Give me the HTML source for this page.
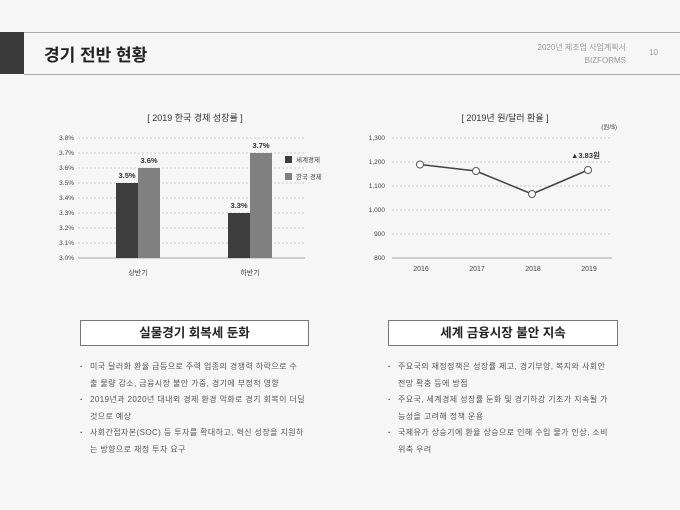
<!DOCTYPE html>
<html><head><meta charset="utf-8"><style>
body{margin:0;width:680px;height:510px;overflow:hidden;background:#f6f6f6;font-family:"Liberation Sans","Noto Sans CJK KR",sans-serif;position:relative}
.a{position:absolute;white-space:nowrap}
.box{position:absolute;border:1px solid #777;background:#fff;height:24px;line-height:24px;text-align:center;font-size:12.5px;font-weight:bold;color:#222}
ul{position:absolute;margin:0;padding:0;list-style:none;font-size:8px;letter-spacing:0.4px;color:#555;line-height:16.5px}
li{padding-left:10px;position:relative;white-space:normal}
li:before{content:"·";position:absolute;left:0;color:#333;font-weight:bold}
</style></head><body>
<div class="a" style="left:0;top:32px;width:24px;height:42px;background:#3a3a3a"></div>
<div class="a" style="left:24px;top:32px;width:656px;height:1px;background:#aaa"></div>
<div class="a" style="left:24px;top:74px;width:656px;height:1px;background:#aaa"></div>
<div class="a" style="left:44px;top:41px;font-size:17px;font-weight:bold;color:#222">경기 전반 현황</div>
<div class="a" style="left:520px;top:41px;font-size:8px;color:#999;text-align:right;width:106px;line-height:13px">2020년 제조업 사업계획서<br>BIZFORMS</div>
<div class="a" style="left:649px;top:48px;font-size:8px;color:#999">10</div>
<svg class="a" style="left:0;top:0" width="680" height="300" font-family="Liberation Sans,Noto Sans CJK KR,sans-serif">
<text x="195" y="121" font-size="9" text-anchor="middle" fill="#333">[ 2019 한국 경제 성장률 ]</text>
<g stroke="#bbb" stroke-dasharray="2,2" stroke-width="0.7">
<line x1="78" x2="305" y1="138" y2="138"/><line x1="78" x2="305" y1="153" y2="153"/><line x1="78" x2="305" y1="168" y2="168"/><line x1="78" x2="305" y1="183" y2="183"/><line x1="78" x2="305" y1="198" y2="198"/><line x1="78" x2="305" y1="213" y2="213"/><line x1="78" x2="305" y1="228" y2="228"/><line x1="78" x2="305" y1="243" y2="243"/>
</g>
<line x1="78" x2="305" y1="258" y2="258" stroke="#aaa"/>
<g font-size="6.5" fill="#444" text-anchor="end">
<text x="74" y="140">3.8%</text><text x="74" y="155">3.7%</text><text x="74" y="170">3.6%</text><text x="74" y="185">3.5%</text><text x="74" y="200">3.4%</text><text x="74" y="215">3.3%</text><text x="74" y="230">3.2%</text><text x="74" y="245">3.1%</text><text x="74" y="260">3.0%</text>
</g>
<rect x="116" y="183" width="22" height="75" fill="#3d3d3d"/><rect x="138" y="168" width="22" height="90" fill="#808080"/>
<rect x="228" y="213" width="22" height="45" fill="#3d3d3d"/><rect x="250" y="153" width="22" height="105" fill="#808080"/>
<g font-size="7.5" font-weight="bold" fill="#333" text-anchor="middle">
<text x="127" y="178">3.5%</text><text x="149" y="163">3.6%</text><text x="239" y="208">3.3%</text><text x="261" y="148">3.7%</text></g>
<g font-size="7" fill="#444" text-anchor="middle"><text x="138" y="275">상반기</text><text x="250" y="275">하반기</text></g>
<rect x="285" y="156" width="7" height="7" fill="#3d3d3d"/><rect x="285" y="173" width="7" height="7" fill="#808080"/>
<g font-size="6.5" fill="#444"><text x="296" y="162">세계경제</text><text x="296" y="179">한국 경제</text></g>

<text x="505" y="121" font-size="9" text-anchor="middle" fill="#333">[ 2019년 원/달러 환율 ]</text>
<text x="617" y="129" font-size="6.5" text-anchor="end" fill="#444">(원/$)</text>
<g stroke="#bbb" stroke-dasharray="2,2" stroke-width="0.7">
<line x1="392" x2="612" y1="138" y2="138"/><line x1="392" x2="612" y1="162" y2="162"/><line x1="392" x2="612" y1="186" y2="186"/><line x1="392" x2="612" y1="210" y2="210"/><line x1="392" x2="612" y1="234" y2="234"/></g>
<line x1="392" x2="612" y1="258" y2="258" stroke="#aaa"/>
<g font-size="6.5" fill="#444" text-anchor="end">
<text x="385" y="140">1,300</text><text x="385" y="164">1,200</text><text x="385" y="188">1,100</text><text x="385" y="212">1,000</text><text x="385" y="236">900</text><text x="385" y="260">800</text></g>
<polyline points="420,164.5 476,171 532,194 588,170" fill="none" stroke="#444" stroke-width="1.5"/>
<g fill="#fff" stroke="#555" stroke-width="1"><circle cx="420" cy="164.5" r="3.5"/><circle cx="476" cy="171" r="3.5"/><circle cx="532" cy="194" r="3.5"/><circle cx="588" cy="170" r="3.5"/></g>
<text x="571" y="158" font-size="7.5" font-weight="bold" fill="#333">▲3.83원</text>
<g font-size="7" fill="#444" text-anchor="middle"><text x="421" y="271">2016</text><text x="477" y="271">2017</text><text x="533" y="271">2018</text><text x="589" y="271">2019</text></g>
</svg>
<div class="box" style="left:80px;top:320px;width:227px">실물경기 회복세 둔화</div>
<div class="box" style="left:388px;top:320px;width:228px">세계 금융시장 불안 지속</div>
<ul style="left:80px;top:359px;width:236px">
<li>미국 달러화 환율 급등으로 주력 업종의 경쟁력 하락으로 수<br>출 물량 감소, 금융시장 불안 가중, 경기에 부정적 영향</li>
<li>2019년과 2020년 대내외 경제 환경 악화로 경기 회복이 더딜<br>것으로 예상</li>
<li>사회간접자본(SOC) 등 투자를 확대하고, 혁신 성장을 지원하<br>는 방향으로 재정 투자 요구</li>
</ul>
<ul style="left:388px;top:359px;width:240px">
<li>주요국의 재정정책은 성장률 제고, 경기부양, 복지와 사회안<br>전망 확충 등에 방점</li>
<li>주요국, 세계경제 성장률 둔화 및 경기하강 기조가 지속될 가<br>능성을 고려해 정책 운용</li>
<li>국제유가 상승기에 환율 상승으로 인해 수입 물가 인상, 소비<br>위축 우려</li>
</ul>
</body></html>
